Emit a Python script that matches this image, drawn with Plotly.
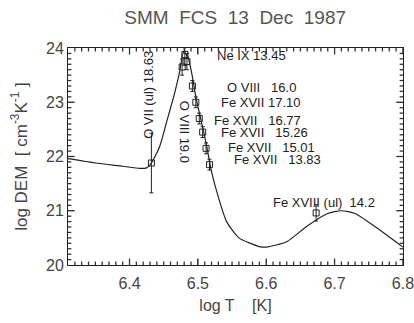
import plotly.graph_objects as go

# DEM curve
curve_logT = [6.31, 6.35, 6.39, 6.415, 6.425, 6.432, 6.444, 6.455, 6.466, 6.473,
              6.479, 6.485, 6.49, 6.498, 6.505, 6.512, 6.52, 6.53, 6.542, 6.56,
              6.59, 6.60, 6.63, 6.66, 6.69, 6.71, 6.73, 6.76, 6.80]
curve_dem = [21.96, 21.88, 21.82, 21.78, 21.79, 21.88, 22.18, 22.67, 23.17, 23.54,
             23.92, 23.85, 23.6, 23.04, 22.65, 22.25, 21.72, 21.25, 20.8, 20.5,
             20.34, 20.33, 20.43, 20.72, 20.95, 21.0, 20.95, 20.7, 20.33]

# Line measurements (log T, log DEM, error)
pt_logT = [6.432, 6.481, 6.477, 6.484, 6.492, 6.497, 6.502, 6.507, 6.512, 6.517, 6.673]
pt_dem = [21.88, 23.88, 23.65, 23.75, 23.3, 23.0, 22.7, 22.45, 22.15, 21.85, 20.96]
pt_err = [0.55, 0.2, 0.15, 0.15, 0.1, 0.1, 0.1, 0.1, 0.1, 0.1, 0.15]

# Labels
lab_text = ["O VII (ul) 18.63", "O VIII 19.0", "Ne IX 13.45", "O VIII   16.0",
            "Fe XVII 17.10", "Fe XVII   16.77", "Fe XVII   15.26", "Fe XVII   15.01",
            "Fe XVII   13.83", "Fe XVIII (ul)  14.2"]
lab_x = [6.428, 6.4816, 6.578, 6.593, 6.592, 6.587, 6.597, 6.608, 6.616, 6.685]
lab_y = [23.13, 22.45, 23.87, 23.28, 23.0, 22.67, 22.45, 22.17, 21.94, 21.16]
lab_angle = [-90, 90, 0, 0, 0, 0, 0, 0, 0, 0]

# Axis tick values
x_range = [6.31, 6.8001]
y_range = [20, 24.0001]
x_major = [6.4, 6.5, 6.6, 6.7, 6.8]
x_minor = [round(6.32 + 0.01 * i, 2) for i in range(49)]
y_major = [20, 21, 22, 23, 24]
y_minor = [round(20 + 0.1 * i, 1) for i in range(1, 40)]

ink = "#222222"
fnt = "Liberation Sans, Arial, sans-serif"

fig = go.Figure()
fig.add_trace(go.Scatter(x=curve_logT, y=curve_dem, mode="lines",
                         line=dict(color=ink, width=1.2, shape="spline", smoothing=0.6),
                         hoverinfo="skip", showlegend=False))
fig.add_trace(go.Scatter(x=pt_logT, y=pt_dem, mode="markers",
                         marker=dict(symbol="square-open", size=6, color=ink, line=dict(width=1)),
                         error_y=dict(type="data", array=pt_err, color=ink, thickness=1, width=2),
                         cliponaxis=False, showlegend=False))

for t, x, y, a in zip(lab_text, lab_x, lab_y, lab_angle):
    fig.add_annotation(x=x, y=y, text=t, showarrow=False, textangle=a,
                       font=dict(family=fnt, size=13, color=ink))

# tick marks on all four sides, drawn inside the frame
tick_line = dict(color="#333", width=1.3)
for v in x_minor:
    L = 0.03 if v in x_major else 0.016
    fig.add_shape(type="line", xref="x", yref="y domain", x0=v, x1=v, y0=0, y1=L,
                  line=tick_line, layer="above")
    fig.add_shape(type="line", xref="x", yref="y domain", x0=v, x1=v, y0=1, y1=1 - L,
                  line=tick_line, layer="above")
for v in y_minor:
    L = 0.02 if v in y_major else 0.01
    fig.add_shape(type="line", xref="x domain", yref="y", x0=0, x1=L, y0=v, y1=v,
                  line=tick_line, layer="above")
    fig.add_shape(type="line", xref="x domain", yref="y", x0=1, x1=1 - L, y0=v, y1=v,
                  line=tick_line, layer="above")

axis_common = dict(showline=True, linecolor="#222", linewidth=1, mirror="allticks",
                   ticks="inside", ticklen=6, tickwidth=1, tickcolor="#333", showgrid=False,
                   zeroline=False, ticklabeloverflow="allow", automargin=False,
                   tickfont=dict(family=fnt, size=16, color="#444"))

fig.update_layout(
    xaxis=dict(range=x_range, tickmode="array", tickvals=x_major,
               tickformat=".1f", ticklabelstandoff=4,
               title=dict(text="log T    [K]", font=dict(family=fnt, size=16, color="#444"), standoff=8),
               **axis_common),
    yaxis=dict(range=y_range, tickmode="array", tickvals=y_major, ticklabelstandoff=0,
               title=dict(text="log DEM  [ cm<sup>-3</sup>K<sup>-1</sup> ]",
                          font=dict(family=fnt, size=17, color="#444"), standoff=14),
               **axis_common),
    width=414, height=323,
    margin=dict(l=68, r=11, t=48, b=58),
    paper_bgcolor="white", plot_bgcolor="white",
    title=dict(text="SMM  FCS  13  Dec  1987", x=0.568, xref="container", xanchor="center",
               y=0.945, yanchor="middle",
               font=dict(family=fnt, size=19, color="#555")),
)

fig.write_html("out.html")
